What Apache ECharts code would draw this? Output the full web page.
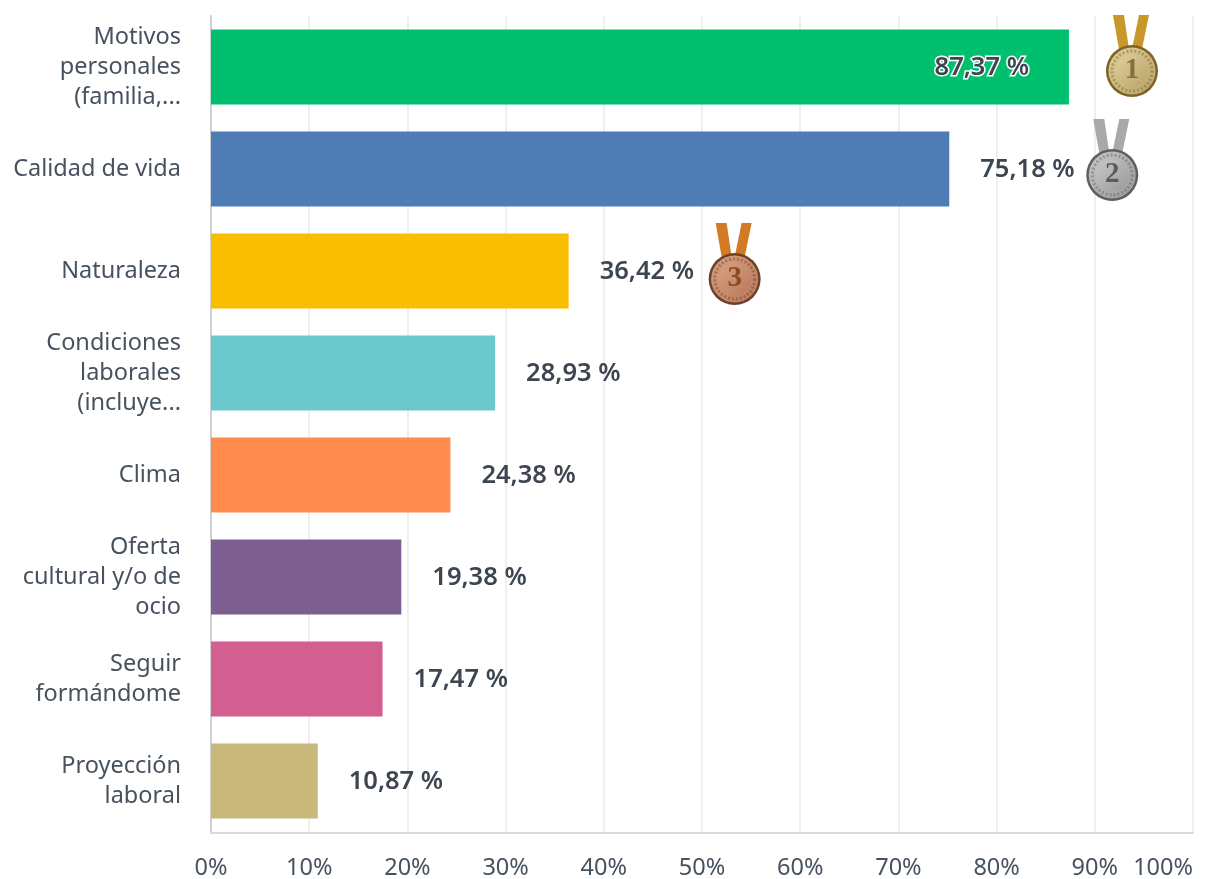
<!DOCTYPE html>
<html><head><meta charset="utf-8">
<style>html,body{margin:0;padding:0;background:#fff}#c{width:1214px;height:879px}</style>
<script src="https://cdn.jsdelivr.net/npm/echarts@6/dist/echarts.min.js"></script>
</head><body><div id="c"></div>
<script>
const categories = ["Motivos\npersonales\n(familia,...","Calidad de vida","Naturaleza","Condiciones\nlaborales\n(incluye...","Clima","Oferta\ncultural y/o de\nocio","Seguir\nformándome","Proyección\nlaboral"];
const values = [87.37,75.18,36.42,28.93,24.38,19.38,17.47,10.87];
const valueTicks = [0,10,20,30,40,50,60,70,80,90,100];
const medalRanks = [1,2,3];

const palette = ["#00bf6f","#507cb6","#f9be00","#6bc8cd","#ff8b4f","#7d5e90","#d25f90","#c8b97a"];
const FONT = '"Noto Sans", sans-serif';
const TEXT = "#47525f";
const VALUE_TEXT = "#3d4650";
const medalStyles = {
  1:{dx:63, dy:4, rib:"#c9982a", out:"#7d6325", mid:"#e0d09a", inner:"#b8a36a", num:"#85713c"},
  2:{dx:163,dy:6, rib:"#a9a9a9", out:"#5f5f5f", mid:"#c9c9c9", inner:"#999999", num:"#5c5c5c"},
  3:{dx:166,dy:8, rib:"#d27a25", out:"#6e4128", mid:"#d9a184", inner:"#b9795a", num:"#8c4a24"}
};
function grad(a,b){return new echarts.graphic.LinearGradient(0,0,1,1,[{offset:0,color:a},{offset:1,color:b}]);}
function renderMedal(params, api){
  const rank = api.value(2), s = medalStyles[rank];
  const p = api.coord([api.value(0), api.value(1)]);
  const cx = p[0]+s.dx, cy = p[1]+s.dy, r = 26;
  const kids = [
    {type:'polygon',shape:{points:[[cx-19,cy-56],[cx-8,cy-56],[cx-3,cy-22],[cx-13,cy-22]]},style:{fill:s.rib}},
    {type:'polygon',shape:{points:[[cx+7,cy-56],[cx+17,cy-56],[cx+10,cy-22],[cx,cy-22]]},style:{fill:s.rib}},
    {type:'circle',shape:{cx,cy,r},style:{fill:s.out}},
    {type:'circle',shape:{cx,cy,r:r-2.5},style:{fill:grad(s.mid,s.inner)}},
    {type:'circle',shape:{cx,cy,r:r-6},style:{fill:'none',stroke:s.out,lineWidth:3,lineDash:[2,2],opacity:.45}},
    {type:'circle',shape:{cx,cy,r:r-10},style:{fill:grad(s.mid,s.inner)}},
    {type:'text',style:{text:String(rank),x:cx,y:cy,align:'center',verticalAlign:'middle',
      font:'bold 29px "Liberation Serif", serif',fill:s.num}}
  ];
  return {type:'group',children:kids};
}
const chart = echarts.init(document.getElementById('c'),null,{renderer:'canvas'});
chart.setOption({
  animation:false,
  backgroundColor:'#fff',
  grid:{left:211,right:21,top:16,bottom:47,outerBoundsMode:'none'},
  xAxis:{type:'value',min:0,max:100,interval:10,offset:1,
    axisLine:{show:true,lineStyle:{color:'#d9dadb',width:2}},
    axisTick:{show:false},
    splitLine:{show:true,lineStyle:{color:'#efefef',width:2}},
    axisLabel:{margin:23,color:TEXT,fontFamily:FONT,fontSize:23.5,alignMaxLabel:'right',
      customValues:valueTicks,formatter:v=>v+'%'}},
  yAxis:{type:'category',inverse:true,data:categories,
    axisLine:{show:true,onZero:false,lineStyle:{color:'#d0d1d2',width:2}},
    axisTick:{show:false},splitLine:{show:false},
    axisLabel:{margin:30,color:TEXT,fontFamily:FONT,fontSize:23.5,lineHeight:30,align:'right',interval:0,padding:[9,0,0,0]}},
  series:[
    {type:'bar',barWidth:75,
     data:values.map((v,i)=>({value:v,itemStyle:{color:palette[i]},
       label:i===0?{position:'insideRight',distance:40,textBorderColor:'#fff',textBorderWidth:3}:{position:'right',distance:31}})),
     label:{show:true,fontFamily:FONT,fontSize:25.5,fontWeight:600,color:VALUE_TEXT,offset:[0,1],
       formatter:p=>p.value.toFixed(2).replace('.',',')+' %'}},
    {type:'custom',clip:false,z:5,encode:{x:0,y:1},
     data:medalRanks.map((r,i)=>[values[i],i,r]),
     renderItem:renderMedal}
  ]
});
</script></body></html>
